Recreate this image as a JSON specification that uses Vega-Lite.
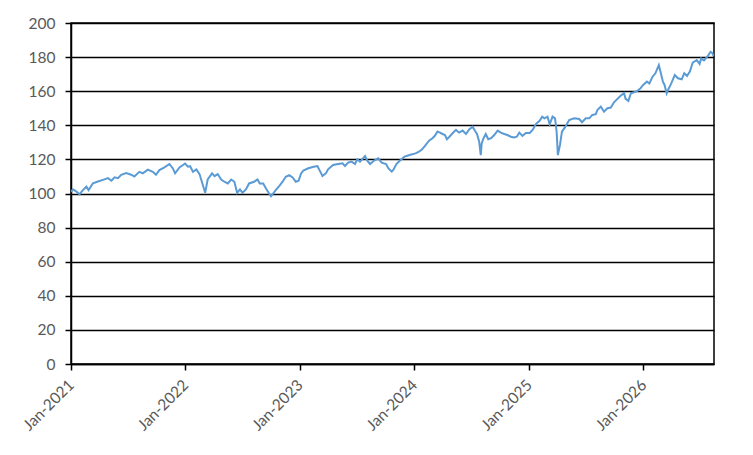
{
  "$schema": "https://vega.github.io/schema/vega-lite/v6.json",
  "width": 643,
  "height": 341,
  "autosize": "none",
  "padding": {"left": 71, "top": 23, "right": 39, "bottom": 91},
  "background": "white",
  "config": {
    "view": {"stroke": "#000000", "strokeWidth": 1.5},
    "font": "Lato",
    "axis": {
      "labelFont": "Lato",
      "labelFontSize": 15.5,
      "labelColor": "#595959",
      "domainColor": "#000000",
      "domainWidth": 1.5,
      "tickColor": "#000000",
      "tickWidth": 1.5,
      "tickSize": 6,
      "title": null
    }
  },
  "data": {
    "values": [
      {"date": "2021-01-01", "value": 101},
      {"date": "2021-01-07", "value": 102.4},
      {"date": "2021-01-15", "value": 101.5},
      {"date": "2021-01-23", "value": 100.4},
      {"date": "2021-01-28", "value": 99.5},
      {"date": "2021-02-08", "value": 102},
      {"date": "2021-02-19", "value": 104},
      {"date": "2021-02-26", "value": 102},
      {"date": "2021-03-12", "value": 106},
      {"date": "2021-03-28", "value": 107},
      {"date": "2021-04-13", "value": 108},
      {"date": "2021-04-29", "value": 109},
      {"date": "2021-05-10", "value": 107.5},
      {"date": "2021-05-20", "value": 109.5},
      {"date": "2021-05-31", "value": 109},
      {"date": "2021-06-10", "value": 111},
      {"date": "2021-06-26", "value": 112},
      {"date": "2021-07-12", "value": 111},
      {"date": "2021-07-22", "value": 110},
      {"date": "2021-08-07", "value": 112.7},
      {"date": "2021-08-18", "value": 111.8},
      {"date": "2021-09-03", "value": 114},
      {"date": "2021-09-19", "value": 112.7},
      {"date": "2021-09-29", "value": 111},
      {"date": "2021-10-10", "value": 113.7},
      {"date": "2021-10-26", "value": 115.3},
      {"date": "2021-11-11", "value": 117.3},
      {"date": "2021-11-22", "value": 114.7},
      {"date": "2021-11-29", "value": 111.8},
      {"date": "2021-12-13", "value": 115.3},
      {"date": "2021-12-31", "value": 117.6},
      {"date": "2022-01-09", "value": 115.7},
      {"date": "2022-01-16", "value": 116},
      {"date": "2022-01-25", "value": 112.7},
      {"date": "2022-02-05", "value": 114.1},
      {"date": "2022-02-15", "value": 111.4},
      {"date": "2022-02-24", "value": 105.9},
      {"date": "2022-03-05", "value": 100.4},
      {"date": "2022-03-13", "value": 108.2},
      {"date": "2022-03-27", "value": 111.8},
      {"date": "2022-04-04", "value": 110.2},
      {"date": "2022-04-14", "value": 111.4},
      {"date": "2022-04-25", "value": 108.2},
      {"date": "2022-05-05", "value": 106.9},
      {"date": "2022-05-16", "value": 105.9},
      {"date": "2022-05-27", "value": 108.2},
      {"date": "2022-06-06", "value": 106.9},
      {"date": "2022-06-15", "value": 100.4},
      {"date": "2022-06-24", "value": 102.4},
      {"date": "2022-07-02", "value": 100.4},
      {"date": "2022-07-13", "value": 102.4},
      {"date": "2022-07-23", "value": 105.9},
      {"date": "2022-08-08", "value": 106.9},
      {"date": "2022-08-19", "value": 108.2},
      {"date": "2022-08-26", "value": 105.9},
      {"date": "2022-09-06", "value": 105.9},
      {"date": "2022-09-15", "value": 102.9},
      {"date": "2022-09-25", "value": 100},
      {"date": "2022-10-01", "value": 98.4},
      {"date": "2022-10-08", "value": 100},
      {"date": "2022-10-16", "value": 102},
      {"date": "2022-10-27", "value": 104.3},
      {"date": "2022-11-07", "value": 106.9},
      {"date": "2022-11-17", "value": 109.8},
      {"date": "2022-11-28", "value": 110.8},
      {"date": "2022-12-09", "value": 109.4},
      {"date": "2022-12-19", "value": 106.9},
      {"date": "2022-12-28", "value": 107.5},
      {"date": "2023-01-05", "value": 111.8},
      {"date": "2023-01-12", "value": 113.4},
      {"date": "2023-01-28", "value": 114.8},
      {"date": "2023-02-14", "value": 115.7},
      {"date": "2023-02-26", "value": 116.1},
      {"date": "2023-03-07", "value": 112.8},
      {"date": "2023-03-14", "value": 110.3},
      {"date": "2023-03-25", "value": 111.8},
      {"date": "2023-04-01", "value": 114.2},
      {"date": "2023-04-17", "value": 116.7},
      {"date": "2023-05-03", "value": 117.3},
      {"date": "2023-05-17", "value": 117.7},
      {"date": "2023-05-25", "value": 116.1},
      {"date": "2023-06-04", "value": 118.1},
      {"date": "2023-06-15", "value": 118.7},
      {"date": "2023-06-26", "value": 117.3},
      {"date": "2023-07-03", "value": 120},
      {"date": "2023-07-12", "value": 118.7},
      {"date": "2023-07-28", "value": 122},
      {"date": "2023-08-04", "value": 119.3},
      {"date": "2023-08-13", "value": 117.3},
      {"date": "2023-08-26", "value": 119.3},
      {"date": "2023-09-08", "value": 120.6},
      {"date": "2023-09-19", "value": 118.1},
      {"date": "2023-10-03", "value": 117.3},
      {"date": "2023-10-10", "value": 114.8},
      {"date": "2023-10-21", "value": 112.8},
      {"date": "2023-10-26", "value": 113.8},
      {"date": "2023-11-05", "value": 117.3},
      {"date": "2023-11-18", "value": 119.6},
      {"date": "2023-12-01", "value": 121.6},
      {"date": "2023-12-17", "value": 122.6},
      {"date": "2024-01-05", "value": 123.5},
      {"date": "2024-01-16", "value": 124.5},
      {"date": "2024-01-26", "value": 125.9},
      {"date": "2024-02-06", "value": 128.4},
      {"date": "2024-02-17", "value": 131},
      {"date": "2024-02-28", "value": 132.4},
      {"date": "2024-03-06", "value": 133.7},
      {"date": "2024-03-15", "value": 136.3},
      {"date": "2024-03-23", "value": 135.7},
      {"date": "2024-03-31", "value": 134.9},
      {"date": "2024-04-08", "value": 134.3},
      {"date": "2024-04-14", "value": 131.8},
      {"date": "2024-04-22", "value": 133.3},
      {"date": "2024-05-02", "value": 135.3},
      {"date": "2024-05-13", "value": 137.3},
      {"date": "2024-05-23", "value": 135.7},
      {"date": "2024-06-03", "value": 136.9},
      {"date": "2024-06-14", "value": 134.9},
      {"date": "2024-06-24", "value": 137.6},
      {"date": "2024-07-05", "value": 139.2},
      {"date": "2024-07-12", "value": 136.9},
      {"date": "2024-07-19", "value": 134.9},
      {"date": "2024-07-26", "value": 130.4},
      {"date": "2024-07-31", "value": 122.5},
      {"date": "2024-08-03", "value": 129.4},
      {"date": "2024-08-09", "value": 132.4},
      {"date": "2024-08-16", "value": 134.9},
      {"date": "2024-08-24", "value": 131.8},
      {"date": "2024-09-02", "value": 132.4},
      {"date": "2024-09-12", "value": 134.3},
      {"date": "2024-09-23", "value": 136.9},
      {"date": "2024-10-03", "value": 135.7},
      {"date": "2024-10-14", "value": 134.9},
      {"date": "2024-10-24", "value": 134.3},
      {"date": "2024-11-04", "value": 133.3},
      {"date": "2024-11-14", "value": 132.9},
      {"date": "2024-11-23", "value": 133.3},
      {"date": "2024-12-01", "value": 135.7},
      {"date": "2024-12-11", "value": 133.8},
      {"date": "2024-12-22", "value": 135.5},
      {"date": "2025-01-03", "value": 135.5},
      {"date": "2025-01-13", "value": 137.5},
      {"date": "2025-01-24", "value": 141},
      {"date": "2025-02-03", "value": 142.5},
      {"date": "2025-02-12", "value": 145.1},
      {"date": "2025-02-19", "value": 144.1},
      {"date": "2025-03-01", "value": 145.1},
      {"date": "2025-03-08", "value": 140.6},
      {"date": "2025-03-17", "value": 145.1},
      {"date": "2025-03-25", "value": 144.1},
      {"date": "2025-03-30", "value": 136.3},
      {"date": "2025-04-03", "value": 122.5},
      {"date": "2025-04-10", "value": 128.8},
      {"date": "2025-04-16", "value": 136.3},
      {"date": "2025-04-27", "value": 139.2},
      {"date": "2025-05-09", "value": 143.1},
      {"date": "2025-05-25", "value": 144.1},
      {"date": "2025-06-10", "value": 143.7},
      {"date": "2025-06-19", "value": 141.8},
      {"date": "2025-07-01", "value": 144.1},
      {"date": "2025-07-12", "value": 144.1},
      {"date": "2025-07-22", "value": 146.1},
      {"date": "2025-08-02", "value": 146.5},
      {"date": "2025-08-07", "value": 149},
      {"date": "2025-08-18", "value": 151},
      {"date": "2025-08-28", "value": 148},
      {"date": "2025-09-08", "value": 150},
      {"date": "2025-09-19", "value": 150.4},
      {"date": "2025-09-29", "value": 153.5},
      {"date": "2025-10-10", "value": 155.5},
      {"date": "2025-10-21", "value": 157.5},
      {"date": "2025-10-31", "value": 158.8},
      {"date": "2025-11-05", "value": 155.5},
      {"date": "2025-11-14", "value": 154.3},
      {"date": "2025-11-22", "value": 158.8},
      {"date": "2025-12-02", "value": 159.4},
      {"date": "2025-12-13", "value": 160.2},
      {"date": "2025-12-23", "value": 161.8},
      {"date": "2025-12-31", "value": 163.7},
      {"date": "2026-01-12", "value": 165.6},
      {"date": "2026-01-20", "value": 164.5},
      {"date": "2026-01-30", "value": 168.5},
      {"date": "2026-02-08", "value": 170.5},
      {"date": "2026-02-19", "value": 175.3},
      {"date": "2026-02-23", "value": 172.5},
      {"date": "2026-03-04", "value": 165.6},
      {"date": "2026-03-09", "value": 163.8},
      {"date": "2026-03-16", "value": 158.8},
      {"date": "2026-03-21", "value": 161},
      {"date": "2026-03-31", "value": 164.7},
      {"date": "2026-04-11", "value": 169.5},
      {"date": "2026-04-21", "value": 167.6},
      {"date": "2026-05-03", "value": 167},
      {"date": "2026-05-11", "value": 170.5},
      {"date": "2026-05-20", "value": 169},
      {"date": "2026-05-29", "value": 171.5},
      {"date": "2026-06-07", "value": 176.7},
      {"date": "2026-06-20", "value": 178.3},
      {"date": "2026-06-29", "value": 176},
      {"date": "2026-07-04", "value": 179.2},
      {"date": "2026-07-13", "value": 178},
      {"date": "2026-07-25", "value": 180.6},
      {"date": "2026-08-03", "value": 183.1},
      {"date": "2026-08-08", "value": 182.5},
      {"date": "2026-08-13", "value": 180.6}
    ]
  },
  "mark": {"type": "line", "color": "#5B9BD5", "strokeWidth": 2, "clip": true},
  "encoding": {
    "x": {
      "field": "date",
      "type": "temporal",
      "scale": {
        "type": "utc",
        "domain": [
          {"year": 2021, "month": 1, "date": 1, "utc": true},
          {"year": 2026, "month": 8, "date": 14, "utc": true}
        ]
      },
      "axis": {
        "grid": false,
        "format": "%b-%Y",
        "labelAngle": -45,
        "labelAlign": "right",
        "labelBaseline": "middle",
        "labelPadding": 12,
        "labelOverlap": false,
        "labelBound": false,
        "labelFlush": false,
        "values": [
          {"year": 2021, "month": 1, "date": 1, "utc": true},
          {"year": 2022, "month": 1, "date": 1, "utc": true},
          {"year": 2023, "month": 1, "date": 1, "utc": true},
          {"year": 2024, "month": 1, "date": 1, "utc": true},
          {"year": 2025, "month": 1, "date": 1, "utc": true},
          {"year": 2026, "month": 1, "date": 1, "utc": true}
        ]
      }
    },
    "y": {
      "field": "value",
      "type": "quantitative",
      "scale": {"domain": [0, 200], "nice": false},
      "axis": {
        "values": [0, 20, 40, 60, 80, 100, 120, 140, 160, 180, 200],
        "grid": true,
        "gridColor": "#000000",
        "gridWidth": 1.5,
        "gridOpacity": 1,
        "labelPadding": 10
      }
    }
  }
}
